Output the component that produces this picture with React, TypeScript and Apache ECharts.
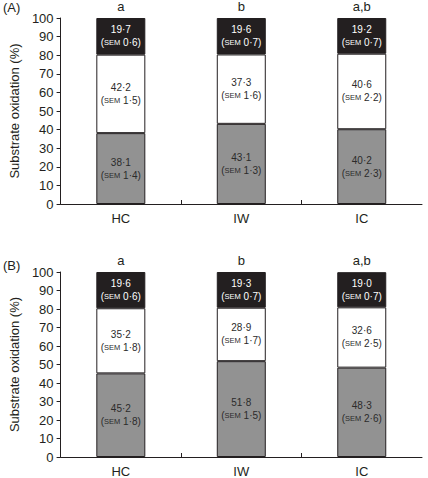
import React, { useEffect, useRef } from "react";
import * as echarts from "echarts";

const categories = ["HC", "IW", "IC"];
// Panel A
const carbA = [38.1, 43.1, 40.2];
const carbSemA = [1.4, 1.3, 2.3];
const fatA = [42.2, 37.3, 40.6];
const fatSemA = [1.5, 1.6, 2.2];
const protA = [19.7, 19.6, 19.2];
const protSemA = [0.6, 0.7, 0.7];
const lettersA = ["a", "b", "a,b"];
// Panel B
const carbB = [45.2, 51.8, 48.3];
const carbSemB = [1.8, 1.5, 2.6];
const fatB = [35.2, 28.9, 32.6];
const fatSemB = [1.8, 1.7, 2.5];
const protB = [19.6, 19.3, 19.0];
const protSemB = [0.6, 0.7, 0.7];
const lettersB = ["a", "b", "a,b"];
const yTicks = [0, 10, 20, 30, 40, 50, 60, 70, 80, 90, 100];

const FONT = "Liberation Sans, Arial, Helvetica, sans-serif";
const INK = "#231f20";

const fmt = (v: number) => v.toFixed(1).replace(".", "\u00b7");

function segLabel(sem: number[], color: string) {
  return {
    show: true,
    position: "inside" as const,
    formatter: (p: any) => `{v|${fmt(p.value)}}\n{p|(}{s|SEM}{p| ${fmt(sem[p.dataIndex])})}`,
    rich: {
      v: { fontSize: 10, color, fontFamily: FONT, lineHeight: 13 },
      p: { fontSize: 10, color, fontFamily: FONT, lineHeight: 13 },
      s: { fontSize: 7.5, color, fontFamily: FONT, lineHeight: 13 },
    },
  };
}

function panelSeries(idx: number, carb: number[], carbSem: number[], fat: number[], fatSem: number[], prot: number[], protSem: number[], letters: string[]) {
  const stack = "s" + idx;
  const base = {
    type: "bar" as const,
    stack,
    xAxisIndex: idx,
    yAxisIndex: idx,
    barWidth: 49,
  };
  return [
    {
      ...base,
      name: "carb" + idx,
      data: carb,
      itemStyle: { color: "#929292", borderColor: INK, borderWidth: 1 },
      label: segLabel(carbSem, "#2b2b2b"),
    },
    {
      ...base,
      name: "fat" + idx,
      data: fat,
      itemStyle: { color: "#ffffff", borderColor: INK, borderWidth: 1 },
      label: segLabel(fatSem, "#2b2b2b"),
    },
    {
      ...base,
      name: "prot" + idx,
      data: prot,
      itemStyle: { color: INK, borderColor: INK, borderWidth: 1 },
      label: segLabel(protSem, "#ffffff"),
    },
    {
      ...base,
      name: "letters" + idx,
      data: letters.map(() => 0),
      itemStyle: { color: "transparent", borderWidth: 0 },
      label: {
        show: true,
        position: "top" as const,
        distance: 5,
        formatter: (p: any) => letters[p.dataIndex],
        fontSize: 13,
        color: INK,
        fontFamily: FONT,
      },
    },
  ];
}

function yAxis(idx: number) {
  return {
    type: "value" as const,
    gridIndex: idx,
    min: yTicks[0],
    max: yTicks[yTicks.length - 1],
    interval: 10,
    name: "Substrate oxidation (%)",
    nameLocation: "middle" as const,
    nameGap: 37,
    nameTextStyle: { fontSize: 13, color: INK, fontFamily: FONT },
    axisLine: { show: true, lineStyle: { color: INK, width: 1 } },
    axisTick: { show: true, length: 4, lineStyle: { color: INK } },
    axisLabel: { fontSize: 13, color: INK, fontFamily: FONT, margin: 7 },
    splitLine: { show: false },
  };
}

function xAxis(idx: number) {
  return {
    type: "category" as const,
    gridIndex: idx,
    data: categories,
    axisLine: { show: true, lineStyle: { color: INK, width: 1 } },
    axisTick: { show: true, inside: true, length: 4, lineStyle: { color: INK } },
    axisLabel: { fontSize: 13, color: INK, fontFamily: FONT, margin: 8 },
  };
}

export default function App() {
  const ref = useRef<HTMLDivElement>(null);
  useEffect(() => {
    document.body.style.margin = "0";
    const chart = echarts.init(ref.current!, null, { renderer: "svg" });
    chart.setOption({
      animation: false,
      backgroundColor: "#ffffff",
      grid: [
        { left: 57, right: 6, top: 18, height: 186 },
        { left: 57, right: 6, top: 272, height: 185 },
      ],
      xAxis: [xAxis(0), xAxis(1)],
      yAxis: [yAxis(0), yAxis(1)],
      graphic: [
        { type: "text", left: 3, top: 1, style: { text: "(A)", fontSize: 13, fill: INK, fontFamily: FONT } },
        { type: "text", left: 3, top: 259, style: { text: "(B)", fontSize: 13, fill: INK, fontFamily: FONT } },
      ],
      series: [
        ...panelSeries(0, carbA, carbSemA, fatA, fatSemA, protA, protSemA, lettersA),
        ...panelSeries(1, carbB, carbSemB, fatB, fatSemB, protB, protSemB, lettersB),
      ],
    });
    return () => chart.dispose();
  }, []);
  return <div ref={ref} style={{ width: 428, height: 478 }} />;
}
